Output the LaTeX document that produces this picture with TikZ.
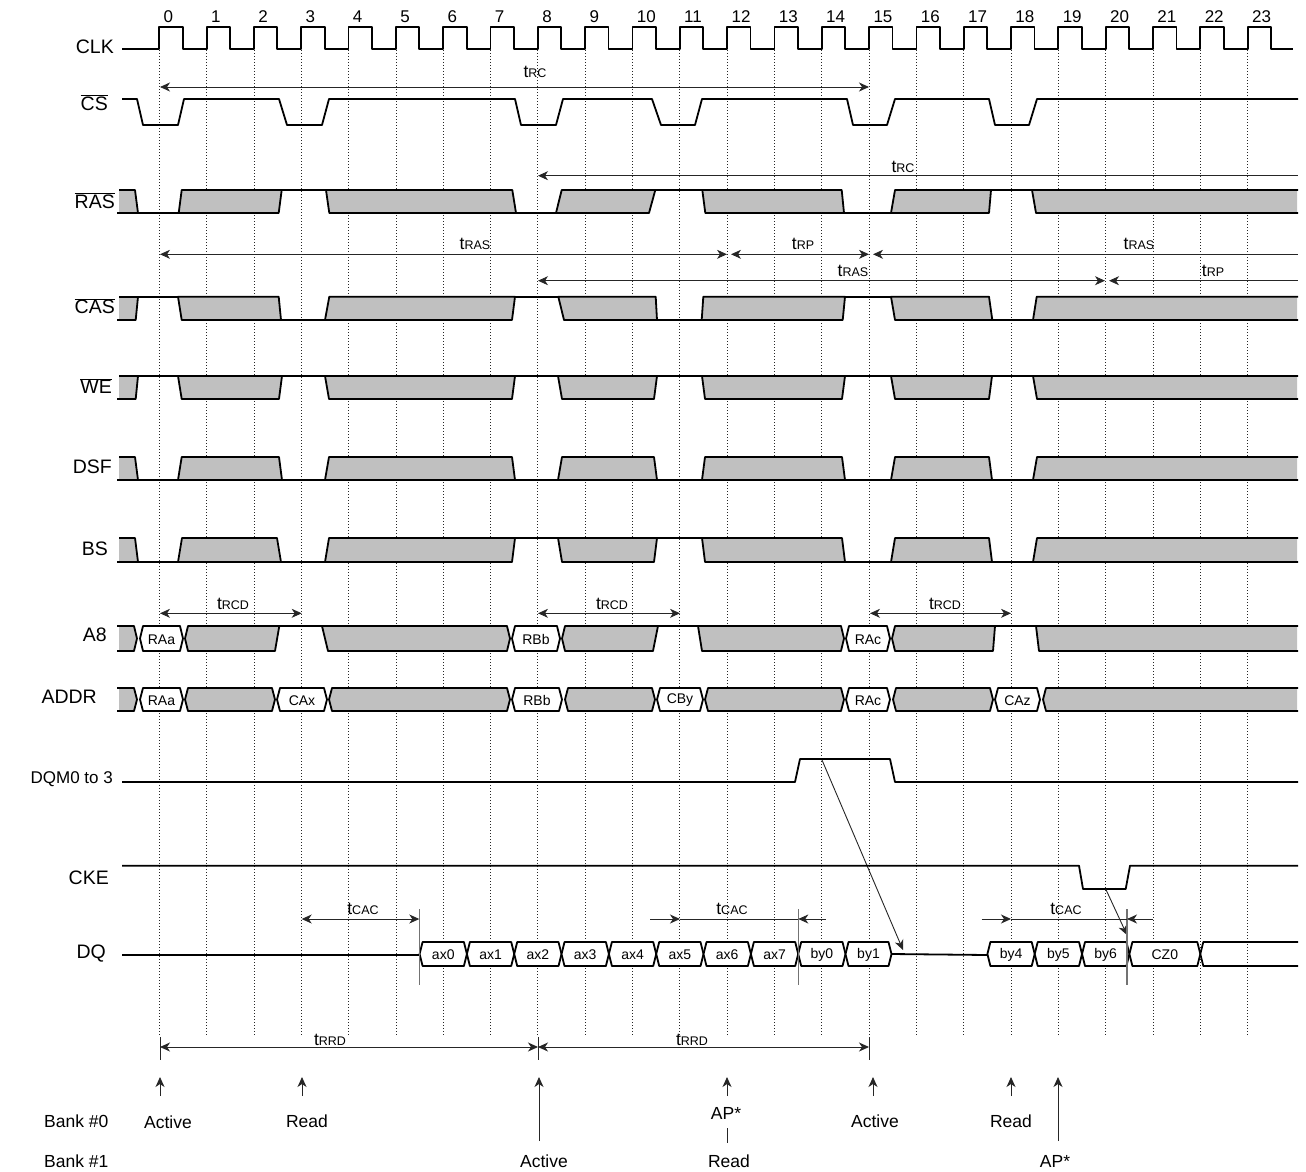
\documentclass[tikz,border=0pt]{standalone}
\usepackage{fontspec}
\setmainfont{Liberation Sans}
\usetikzlibrary{arrows.meta}
\definecolor{gfill}{RGB}{192,192,192}
\tikzset{
  sig/.style={line width=1.8pt, line join=round},
  dim/.style={line width=0.9pt, black!85},
  dotline/.style={line width=0.75pt, black!85, dash pattern=on 1pt off 2pt},
  >={Stealth[length=10pt,width=9pt,inset=3pt]},
  lab/.style={font=\fontsize{19.5}{19.5}\selectfont, inner sep=0pt, anchor=east},
  clknum/.style={font=\fontsize{17}{17}\selectfont, inner sep=0pt, anchor=west},
  boxtxt/.style={font=\fontsize{14}{14}\selectfont, inner sep=0pt},
  tlab/.style={inner sep=0pt},
  bot/.style={font=\fontsize{17.5}{17.5}\selectfont, inner sep=0pt},
}
\newcommand\tlb[1]{{\fontsize{17.5}{17.5}\selectfont t}{\fontsize{12.5}{12.5}\selectfont #1}}
% parallelogram block: TL BL TR BR top bot
\newcommand\pb[6]{\filldraw[sig,fill=gfill] (#1,#5) -- (#3,#5) -- (#4,#6) -- (#2,#6) -- cycle;}
% open-ended block: TL BL top bot
\newcommand\pe[4]{\fill[gfill] (#1,#3) -- (1297,#3) -- (1297,#4) -- (#2,#4) -- cycle;
  \draw[sig] (1298,#3) -- (#1,#3) -- (#2,#4) -- (1298,#4);}
% level line
\newcommand\lvl[3]{\draw[sig] (#1,#3) -- (#2,#3);}
% hex bus box: a b top bot fill
\newcommand\hx[5]{\filldraw[sig,fill=#5] (#1,{(#3+#4)/2}) -- ({#1+3},#3) -- ({#2-3},#3) -- (#2,{(#3+#4)/2}) -- ({#2-3},#4) -- ({#1+3},#4) -- cycle;}
% hex bus box with text: a b top bot text name
\newcommand\hxt[6]{\hx{#1}{#2}{#3}{#4}{white}\node[boxtxt] (#6) at ({(#1+#2)/2},{(#3+#4)/2+1}) {#5};}
% hex-left, slanted right: a TR BR top bot
\newcommand\hxr[5]{\filldraw[sig,fill=gfill] (#1,{(#4+#5)/2}) -- ({#1+3},#4) -- (#2,#4) -- (#3,#5) -- ({#1+3},#5) -- cycle;}
% slanted left, hex-right: TL BL b top bot
\newcommand\hxl[5]{\filldraw[sig,fill=gfill] (#1,#4) -- ({#3-3},#4) -- (#3,{(#4+#5)/2}) -- ({#3-3},#5) -- (#2,#5) -- cycle;}
% start block falling to low (top bot)
\newcommand\stfall[2]{\fill[gfill] (119,#1) -- (135,#1) -- (138,#2) -- (119,#2) -- cycle;
  \draw[sig] (119,#1) -- (135,#1) -- (138,#2);}
% start block rising to high (top bot)
\newcommand\strise[2]{\fill[gfill] (119,#1) -- (138,#1) -- (135.7,#2) -- (119,#2) -- cycle;
  \draw[sig] (117,#2) -- (135.7,#2) -- (138,#1); \draw[sig] (119,#1) -- (138,#1);}
% start bus block (top bot)
\newcommand\stbus[2]{\fill[gfill] (119,#1) -- (134,#1) -- (137,{(#1+#2)/2}) -- (134,#2) -- (119,#2) -- cycle;
  \draw[sig] (117,#1) -- (134,#1) -- (137,{(#1+#2)/2}) -- (134,#2) -- (117,#2);}

\begin{document}
\begin{tikzpicture}[x=1pt,y=-1pt]
\useasboundingbox (0,0) rectangle (1306,1172);

% dotted clock lines
\foreach \k in {0,...,23} \draw[dotline] ({159.3+47.32*\k},50) -- ({159.3+47.32*\k},1035);

% labels
\node[lab] (lclk) at (114,47) {CLK};
\node[lab] (lcs) at (108,103) {$\overline{\mbox{CS}}$};
\node[lab] (lras) at (115,201) {$\overline{\mbox{RAS}}$};
\node[lab] (lcas) at (115,306) {$\overline{\mbox{CAS}}$};
\node[lab] (lwe) at (112,386) {$\overline{\mbox{WE}}$};
\node[lab] (ldsf) at (112,467) {DSF};
\node[lab] (lbs) at (108,549) {BS};
\node[lab] (la8) at (107,635) {A8};
\node[lab] (laddr) at (97,697) {ADDR};
\node[lab,font=\fontsize{17}{17}\selectfont] (ldqm) at (113,779) {DQM0 to 3};
\node[lab] (lcke) at (109,878) {CKE};
\node[lab] (ldq) at (106,954) {DQ};

% clock
\foreach \k in {0,...,23} \node[clknum] (n\k) at ({163.5+47.32*\k},17) {\k};
\draw[sig] (122,49) foreach \k in {0,...,23} { -- ({159.3+47.32*\k},49) -- ({159.3+47.32*\k},26.7) -- ({182.7+47.32*\k},26.7) -- ({182.7+47.32*\k},49) } -- (1293,49);

% CS
\draw[sig] (122,99) -- (137,99) -- (143,125) -- (178,125) -- (184,99) -- (279,99) -- (287,125) -- (322,125) -- (329,99) -- (515,99) -- (521,125) -- (556,125) -- (563,99) -- (652,99) -- (661,125) -- (695,125) -- (702,99) -- (847,99) -- (853,125) -- (887,125) -- (895,99) -- (989,99) -- (995,125) -- (1029,125) -- (1037,99) -- (1298,99);

% tRC arrows
\draw[dim,<->] (160,87) -- (869,87);
\node[tlab] (trc1) at (535,72) {\tlb{RC}};
\draw[dim,<-] (538,175.7) -- (1298,175.7);
\node[tlab] (trc2) at (903,167) {\tlb{RC}};

% RAS
\stfall{190}{213}
\lvl{117}{179}{213}
\pb{181.7}{178.7}{281.7}{278.7}{190}{213}
\lvl{281.7}{326}{190}
\pb{326}{329.3}{512.3}{516}{190}{213}
\lvl{516}{556}{213}
\pb{561.7}{556}{655.3}{649}{190}{213}
\lvl{655.3}{702.3}{190}
\pb{702.3}{705.3}{841.7}{844}{190}{213}
\lvl{844}{891}{213}
\pb{895}{891}{991}{989}{190}{213}
\lvl{991}{1032}{190}
\pe{1032}{1036}{190}{213}

% tRAS / tRP arrows
\draw[dim,<->] (160,254.3) -- (727,254.3);
\draw[dim,<->] (731,254.3) -- (869,254.3);
\draw[dim,<-] (873,254.3) -- (1298,254.3);
\node[tlab] (tras1) at (475,244) {\tlb{RAS}};
\node[tlab] (trp1) at (803,244) {\tlb{RP}};
\node[tlab] (tras2) at (1139,244) {\tlb{RAS}};
\draw[dim,<->] (538,280.7) -- (1105,280.7);
\draw[dim,<-] (1109,280.7) -- (1298,280.7);
\node[tlab] (tras3) at (853,271) {\tlb{RAS}};
\node[tlab] (trp2) at (1213,271) {\tlb{RP}};

% CAS
\strise{296.7}{320}
\lvl{138}{178}{296.7}
\pb{178}{181.7}{278.7}{281}{296.7}{320}
\lvl{281}{325}{320}
\pb{329.3}{325}{515}{512}{296.7}{320}
\lvl{515}{558.3}{296.7}
\pb{558.3}{564}{655.7}{657}{296.7}{320}
\lvl{657}{701.7}{320}
\pb{703.3}{701.7}{845}{842.7}{296.7}{320}
\lvl{845}{891}{296.7}
\pb{891}{895}{989}{992.3}{296.7}{320}
\lvl{992.3}{1033}{320}
\pe{1036.7}{1033}{296.7}{320}

% WE
\strise{376}{399}
\lvl{138}{178}{376}
\pb{178}{181.7}{282}{279}{376}{399}
\lvl{282}{325}{376}
\pb{325}{329}{515}{512}{376}{399}
\lvl{515}{558}{376}
\pb{558}{562}{657}{654}{376}{399}
\lvl{657}{702}{376}
\pb{702}{705}{845}{842}{376}{399}
\lvl{845}{891}{376}
\pb{891}{895}{992}{989}{376}{399}
\lvl{992}{1033}{376}
\pe{1033}{1037}{376}{399}

% DSF
\stfall{457}{480}
\lvl{117}{178}{480}
\pb{181.7}{178}{279}{282}{457}{480}
\lvl{282}{325}{480}
\pb{329}{325}{512}{515}{457}{480}
\lvl{515}{558}{480}
\pb{562}{558}{654}{657}{457}{480}
\lvl{657}{702}{480}
\pb{705}{702}{842}{845}{457}{480}
\lvl{845}{891}{480}
\pb{895}{891}{989}{992}{457}{480}
\lvl{992}{1033}{480}
\pe{1037}{1033}{457}{480}

% BS
\stfall{538}{562}
\lvl{117}{178}{562}
\pb{182}{178}{277}{281}{538}{562}
\lvl{281}{325}{562}
\pb{329}{325}{515}{512}{538}{562}
\lvl{515}{558}{538}
\pb{558}{562}{657}{654}{538}{562}
\lvl{657}{702}{538}
\pb{702}{705}{842}{845}{538}{562}
\lvl{845}{891}{562}
\pb{895}{891}{989}{992}{538}{562}
\lvl{992}{1033}{562}
\pe{1037}{1033}{538}{562}

% tRCD arrows
\draw[dim,<->] (160,613.3) -- (301.7,613.3);
\node[tlab] (trcd1) at (233,604) {\tlb{RCD}};
\draw[dim,<->] (538,613.3) -- (680,613.3);
\node[tlab] (trcd2) at (612,604) {\tlb{RCD}};
\draw[dim,<->] (870,613.3) -- (1011,613.3);
\node[tlab] (trcd3) at (945,604) {\tlb{RCD}};

% A8
\stbus{626}{651}
\hxt{140}{183}{626}{651}{RAa}{a8a}
\hxr{185}{279.3}{275}{626}{651}
\lvl{279.3}{322}{626}
\hxl{322}{328}{510}{626}{651}
\hxt{512}{560}{626}{651}{RBb}{a8b}
\hxr{562}{658}{653}{626}{651}
\lvl{658}{698}{626}
\hxl{698}{702}{844}{626}{651}
\hxt{846}{890}{626}{651}{RAc}{a8c}
\hxr{892}{995}{993}{626}{651}
\lvl{995}{1036}{626}
\pe{1036}{1039}{626}{651}

% ADDR
\stbus{688}{711}
\hxt{140}{183}{688}{711}{RAa}{ada}
\hx{185}{275}{688}{711}{gfill}
\hxt{277}{327}{688}{711}{CAx}{adx}
\hx{329}{510}{688}{711}{gfill}
\hxt{512}{562}{688}{711}{RBb}{adb}
\hx{565}{655}{688}{711}{gfill}
\hxt{657}{703}{688}{711}{CBy}{ady}
\hx{705}{844}{688}{711}{gfill}
\hxt{846}{890}{688}{711}{RAc}{adc}
\hx{893}{993}{688}{711}{gfill}
\hxt{995}{1040}{688}{711}{CAz}{adz}
\fill[gfill] (1043,699.5) -- (1046,688) -- (1297,688) -- (1297,711) -- (1046,711) -- cycle;
\draw[sig] (1298,688) -- (1046,688) -- (1043,699.5) -- (1046,711) -- (1298,711);

% DQM
\draw[sig] (122,782) -- (795,782) -- (800,759) -- (890,759) -- (895,782) -- (1298,782);
\coordinate (dqmA) at (822,760);
\coordinate (dqA) at (903,950);
\draw[dim,->] (dqmA) -- (dqA);

% CKE
\draw[sig] (122,865.7) -- (1079,865.7) -- (1083,889) -- (1125.7,889) -- (1130,865.7) -- (1298,865.7);
\coordinate (ckeA) at (1105.7,889);
\coordinate (dqB) at (1127,935);
\draw[dim,->] (ckeA) -- (dqB);

% DQ
\draw[sig] (122,955) -- (419.6,955);
\hxt{419.6}{466.9}{942}{966}{ax0}{q0}
\hxt{466.9}{514.2}{942}{966}{ax1}{q1}
\hxt{514.2}{561.5}{942}{966}{ax2}{q2}
\hxt{561.5}{608.9}{942}{966}{ax3}{q3}
\hxt{608.9}{656.2}{942}{966}{ax4}{q4}
\hxt{656.2}{703.5}{942}{966}{ax5}{q5}
\hxt{703.5}{750.9}{942}{966}{ax6}{q6}
\hxt{750.9}{798.2}{942}{966}{ax7}{q7}
\hxt{798.2}{845.5}{942}{966}{by0}{q8}
\hxt{845.5}{891.5}{942}{966}{by1}{q9}
\draw[sig] (891.5,954) -- (987.4,955);
\hxt{987.4}{1034.7}{942}{966}{by4}{q10}
\hxt{1034.7}{1082}{942}{966}{by5}{q11}
\hxt{1082}{1129.4}{942}{966}{by6}{q12}
\hxt{1129.4}{1200.3}{942}{966}{CZ0}{q13}
\draw[sig] (1298,942) -- (1203.3,942) -- (1200.3,954) -- (1203.3,966) -- (1298,966);

% vertical markers
\draw[line width=1.2pt, black!55] (419.4,909) -- (419.4,985);
\draw[line width=1.2pt, black!55] (798.3,909) -- (798.3,985);
\draw[line width=1.2pt, black!55] (1127,909) -- (1127,985);

% tCAC arrows
\draw[dim,<->] (301.7,919) -- (419.3,919);
\node[tlab] (tcac1) at (363,909) {\tlb{CAC}};
\draw[dim,->] (650,919) -- (680,919);
\draw[dim] (680,919) -- (798,919);
\draw[dim,->] (826,919) -- (798.3,919);
\node[tlab] (tcac2) at (732,909) {\tlb{CAC}};
\draw[dim,->] (981.7,919) -- (1011,919);
\draw[dim] (1011,919) -- (1127,919);
\draw[dim,->] (1153,919) -- (1127,919);
\node[tlab] (tcac3) at (1066,909) {\tlb{CAC}};

% tRRD
\draw[dim] (160,1037) -- (160,1060);
\draw[dim] (538,1037) -- (538,1060);
\draw[dim] (869,1037) -- (869,1060);
\draw[dim,<->] (160,1047) -- (538,1047);
\draw[dim,<->] (538,1047) -- (869,1047);
\node[tlab] (trrd1) at (330,1040) {\tlb{RRD}};
\node[tlab] (trrd2) at (692,1040) {\tlb{RRD}};

% bottom command markers
\node[bot, anchor=west] (b0) at (44,1121) {Bank \#0};
\node[bot, anchor=west] (b1) at (44,1161) {Bank \#1};
\draw[dim,->] (160,1096) -- (160,1077);
\node[bot] (c0) at (168,1122) {Active};
\draw[dim,->] (302,1096) -- (302,1077);
\node[bot] (c1) at (307,1121) {Read};
\draw[dim,->] (539,1141) -- (539,1077);
\node[bot] (c2) at (544,1161) {Active};
\draw[dim,->] (727,1096) -- (727,1077);
\node[bot] (c3) at (726,1113) {AP*};
\draw[dim] (727,1128) -- (727,1143);
\node[bot] (c4) at (729,1161) {Read};
\draw[dim,->] (873,1096) -- (873,1077);
\node[bot] (c5) at (875,1121) {Active};
\draw[dim,->] (1011,1096) -- (1011,1077);
\node[bot] (c6) at (1011,1121) {Read};
\draw[dim,->] (1058,1141) -- (1058,1077);
\node[bot] (c7) at (1055,1161) {AP*};
\end{tikzpicture}
\end{document}
